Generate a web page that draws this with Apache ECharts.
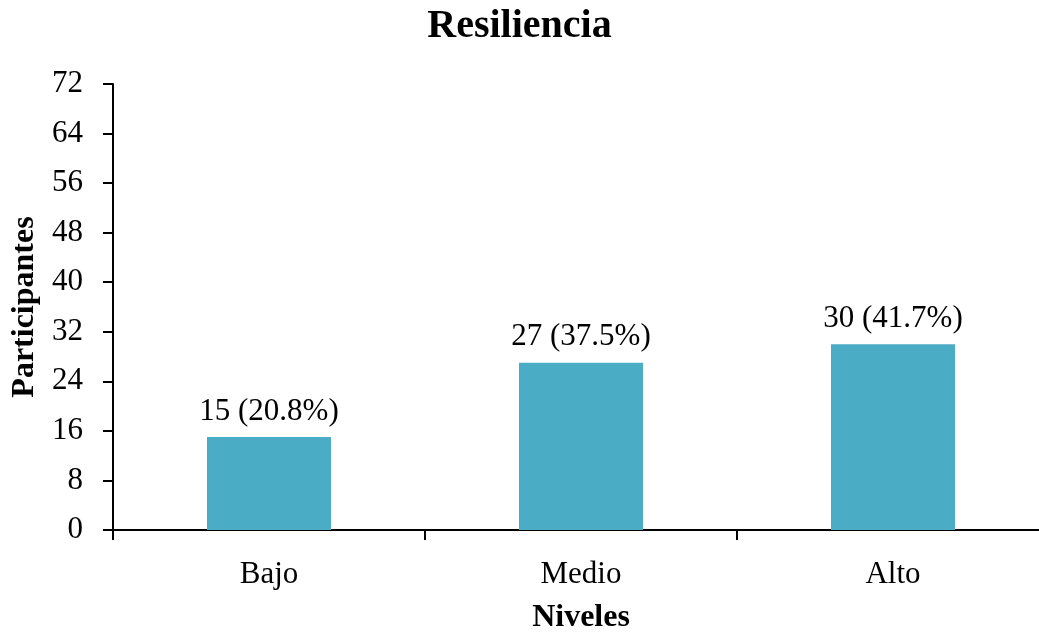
<!DOCTYPE html>
<html>
<head>
<meta charset="utf-8">
<script src="https://cdn.jsdelivr.net/npm/echarts@6/dist/echarts.min.js"></script>
<style>
	html, body { margin: 0; padding: 0; background: #fff; }
	#chart { width: 1039px; height: 635px; }
</style>
</head>
<body>
<div id="chart"></div>
<script>
	// ______Data
	var niveles = ['Bajo', 'Medio', 'Alto'];
	var participantes = [15, 27, 30];
	var porcentajes = [20.8, 37.5, 41.7];

	var font = '"Liberation Serif", serif';

	var chart = echarts.init(document.getElementById('chart'));

	var option = {
		animation: false,
		title: {
			text: 'Resiliencia',
			left: 'center',
			top: 2,
			textStyle: {
				fontFamily: font,
				fontSize: 40,
				fontWeight: 'bold',
				color: '#000'
			}
		},
		grid: {
			top: 84,
			bottom: 105,
			left: 113,
			right: -10,
			containLabel: false,
			outerBoundsMode: 'none'
		},
		xAxis: {
			type: 'category',
			data: niveles,
			name: 'Niveles',
			nameLocation: 'middle',
			nameGap: 72,
			nameTextStyle: {
				fontFamily: font,
				fontSize: 32,
				fontWeight: 'bold',
				color: '#000'
			},
			axisLine: { lineStyle: { color: '#000', width: 2 } },
			axisTick: { show: true, interval: 0, length: 10, lineStyle: { color: '#000', width: 2 } },
			axisLabel: {
				margin: 29,
				fontFamily: font,
				fontSize: 31,
				color: '#000'
			}
		},
		yAxis: {
			type: 'value',
			min: 0,
			max: 72,
			interval: 8,
			name: 'Participantes',
			nameLocation: 'middle',
			nameGap: 68,
			nameTextStyle: {
				fontFamily: font,
				fontSize: 32,
				fontWeight: 'bold',
				color: '#000'
			},
			splitLine: { show: false },
			axisLine: { show: true, lineStyle: { color: '#000', width: 2 } },
			axisTick: { show: true, length: 10, lineStyle: { color: '#000', width: 2 } },
			axisLabel: {
				margin: 30,
				fontFamily: font,
				fontSize: 31,
				color: '#000'
			}
		},
		series: [{
			type: 'bar',
			data: participantes,
			barWidth: 124,
			itemStyle: { color: '#4bacc6' },
			label: {
				show: true,
				position: 'top',
				distance: 10,
				fontFamily: font,
				fontSize: 31,
				color: '#000',
				formatter: function (p) {
					return p.value + ' (' + porcentajes[p.dataIndex].toFixed(1) + '%)';
				}
			}
		}]
	};

	chart.setOption(option);
</script>
</body>
</html>
